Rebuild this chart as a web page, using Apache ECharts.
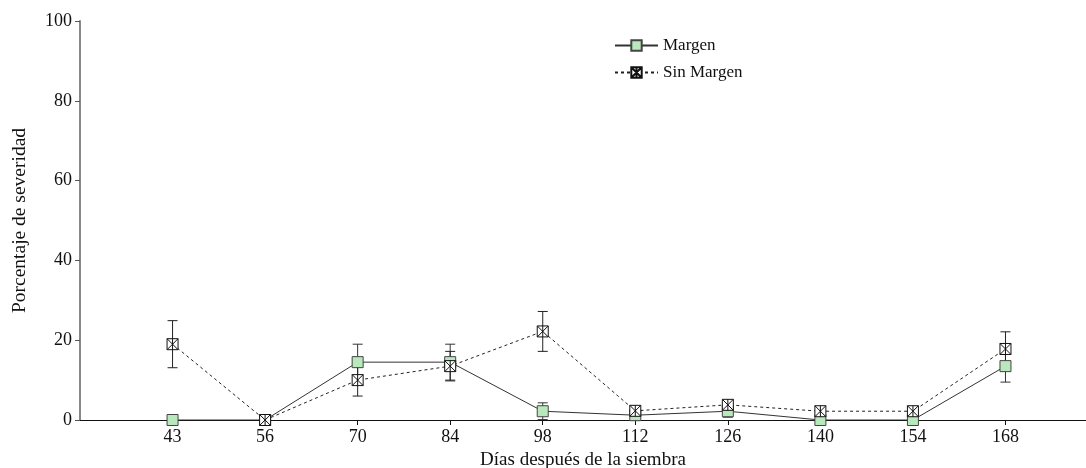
<!DOCTYPE html>
<html>
<head>
<meta charset="utf-8">
<script src="https://cdn.jsdelivr.net/npm/echarts@6/dist/echarts.min.js"></script>
<style>
html,body{margin:0;padding:0;background:#fff;}
#c{width:1086px;height:468px;}
</style>
</head>
<body>
<div id="c"></div>
<script>
const categories = ['43','56','70','84','98','112','126','140','154','168'];
const margen = [0, 0, 14.5, 14.5, 2.2, 1.2, 2.2, 0, 0, 13.5];
const margenErr = [0, 0, 4.5, 4.5, 2.1, 0.8, 1.5, 0, 0, 4];
const sinMargen = [19, 0, 10, 13.5, 22.2, 2.3, 3.8, 2.2, 2.2, 17.8];
const sinMargenErr = [5.9, 0, 4, 3.7, 5, 1.2, 1, 1.2, 1.2, 4.3];
const yTicks = [0, 20, 40, 60, 80, 100];

const FONT = '"Liberation Serif", "DejaVu Serif", serif';
const xs = categories.map((c, i) => i + 1);

function errData(vals, errs) {
  const out = [];
  vals.forEach((v, i) => { if (errs[i] > 0) out.push([xs[i], v - errs[i], v + errs[i]]); });
  return out;
}

function errRender(color) {
  return function (params, api) {
    const x = api.value(0);
    const lo = api.coord([x, api.value(1)]);
    const hi = api.coord([x, api.value(2)]);
    const w = 5;
    const style = { stroke: color, lineWidth: 1 };
    return {
      type: 'group',
      children: [
        { type: 'line', shape: { x1: lo[0], y1: lo[1], x2: hi[0], y2: hi[1] }, style },
        { type: 'line', shape: { x1: lo[0] - w, y1: lo[1], x2: lo[0] + w, y2: lo[1] }, style },
        { type: 'line', shape: { x1: hi[0] - w, y1: hi[1], x2: hi[0] + w, y2: hi[1] }, style }
      ]
    };
  };
}

const chart = echarts.init(document.getElementById('c'), null, { renderer: 'canvas' });
chart.setOption({
  animation: false,
  backgroundColor: '#fff',
  textStyle: { fontFamily: FONT },
  grid: { left: 80, right: 0, top: 21, bottom: 48, containLabel: false, outerBoundsMode: 'none' },
  legend: {
    left: 614, top: 37, padding: 0,
    orient: 'vertical',
    itemWidth: 43, itemHeight: 13, itemGap: 10,
    textStyle: { fontFamily: FONT, fontSize: 17, color: '#111' },
    data: ['Margen', 'Sin Margen']
  },
  xAxis: {
    type: 'value',
    min: 0, max: 10.87, interval: 1,
    name: 'Días después de la siembra',
    nameLocation: 'middle', nameGap: 28,
    nameTextStyle: { fontFamily: FONT, fontSize: 19, color: '#111' },
    axisLine: { show: true, onZero: false, lineStyle: { color: '#111', width: 1 } },
    axisTick: { show: true, length: 5, inside: false, customValues: xs, lineStyle: { color: '#111' } },
    axisLabel: {
      customValues: xs, margin: 8,
      fontFamily: FONT, fontSize: 18, color: '#111',
      formatter: v => categories[Math.round(v) - 1] || ''
    },
    splitLine: { show: false }
  },
  yAxis: {
    type: 'value',
    min: 0, max: 100, interval: 20,
    name: 'Porcentaje de severidad',
    nameLocation: 'middle', nameGap: 50, nameRotate: 90,
    nameTextStyle: { fontFamily: FONT, fontSize: 19.5, color: '#111' },
    axisLine: { show: true, lineStyle: { color: '#888', width: 2 } },
    axisTick: { show: true, length: 5, lineStyle: { color: '#555' } },
    axisLabel: { margin: 8, fontFamily: FONT, fontSize: 18, color: '#111',
      formatter: v => yTicks.indexOf(v) >= 0 ? String(v) : '' },
    splitLine: { show: false }
  },
  series: [
    {
      name: 'Margen',
      type: 'line',
      data: xs.map((x, i) => [x, margen[i]]),
      symbol: 'rect', symbolSize: 11,
      itemStyle: { color: '#b9e8bd', borderColor: '#444', borderWidth: 1 },
      lineStyle: { color: '#333', width: 1, type: 'solid' },
      z: 3
    },
    {
      name: 'Sin Margen',
      type: 'line',
      data: xs.map((x, i) => [x, sinMargen[i]]),
      symbol: 'path://M0,0H10V10H0Z M0,0L10,10 M10,0L0,10 M5,0V10',
      symbolSize: 11, symbolKeepAspect: true,
      itemStyle: { color: '#fff', borderColor: '#111', borderWidth: 1 },
      lineStyle: { color: '#222', width: 1, type: [3, 3] },
      z: 4
    },
    {
      name: 'errMargen', type: 'custom',
      renderItem: errRender('#333'),
      data: errData(margen, margenErr),
      encode: { x: 0, y: [1, 2] }, z: 2, silent: true
    },
    {
      name: 'errSin', type: 'custom',
      renderItem: errRender('#222'),
      data: errData(sinMargen, sinMargenErr),
      encode: { x: 0, y: [1, 2] }, z: 2, silent: true
    }
  ]
});
</script>
</body>
</html>
